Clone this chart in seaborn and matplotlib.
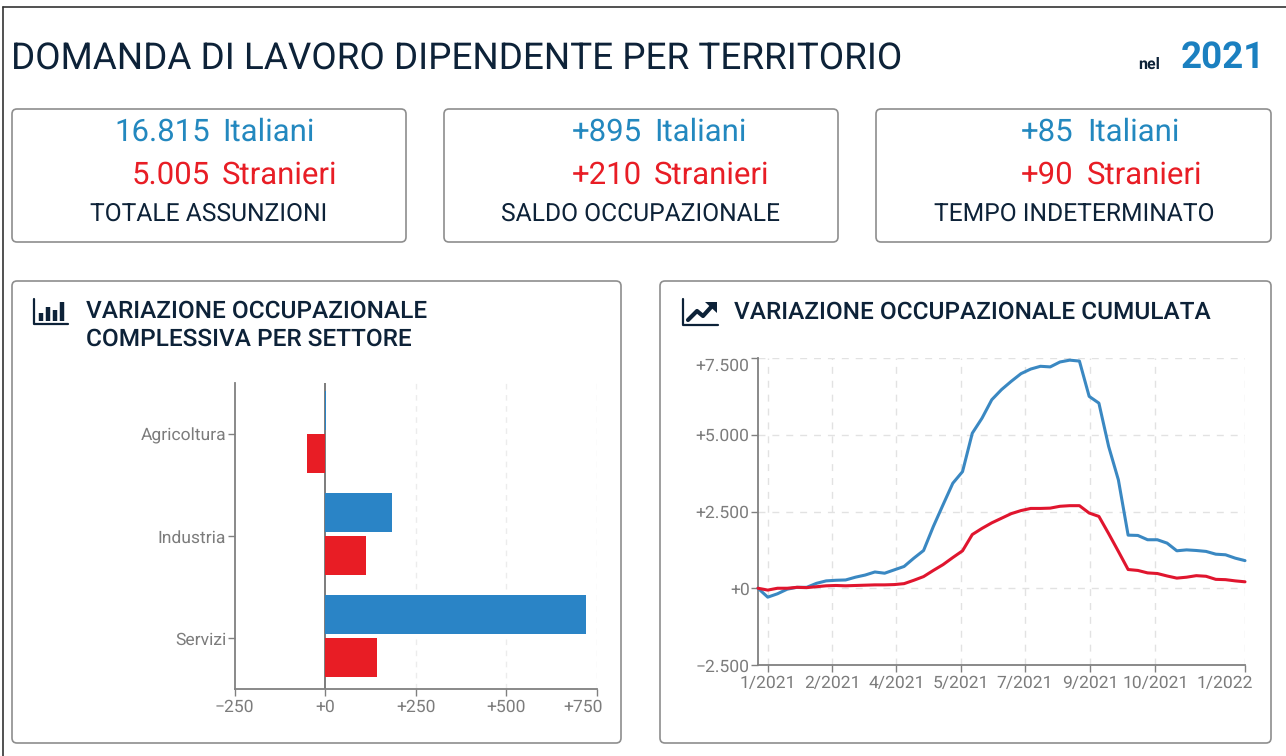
import pandas as pd
import matplotlib
matplotlib.use('Agg')
import matplotlib.pyplot as plt
from matplotlib.patches import FancyBboxPatch
from matplotlib.transforms import ScaledTranslation
import seaborn as sns

# bar chart data
settori = ['Agricoltura', 'Industria', 'Servizi']
var_italiani = [3, 184, 720]
var_stranieri = [-50, 114, 144]
bar_ticks = [-250, 0, 250, 500, 750]
bar_ticklabels = ['−250', '+0', '+250', '+500', '+750']

# cumulated line data, one value per period
cum_italiani = [0, -290, -180, -30, 30, 30, 160, 240, 260, 270, 360, 430, 530, 490, 600, 710, 980,
                1230, 2010, 2720, 3420, 3800, 5050, 5540, 6140, 6470, 6740, 6990, 7140, 7230, 7210,
                7370, 7430, 7400, 6250, 6030, 4620, 3530, 1730, 1720, 1580, 1580, 1470, 1220, 1250,
                1230, 1200, 1110, 1090, 980, 900]
cum_stranieri = [0, -60, 0, 0, 30, 20, 50, 80, 90, 80, 90, 100, 110, 110, 120, 150, 260,
                 380, 580, 770, 1000, 1220, 1750, 1950, 2130, 2280, 2430, 2530, 2600, 2600, 2610,
                 2670, 2690, 2690, 2450, 2340, 1780, 1200, 610, 580, 500, 480, 400, 330, 360,
                 410, 390, 290, 280, 240, 210]
periodi = list(range(len(cum_italiani)))
line_xticks = [1, 7.6, 14.2, 20.8, 27.4, 34.1, 40.8, 50]
line_xlabels = ['1/2021', '2/2021', '4/2021', '5/2021', '7/2021', '9/2021', '10/2021', '1/2022']
line_yticks = [-2500, 0, 2500, 5000, 7500]
line_ylabels = ['−2.500', '+0', '+2.500', '+5.000', '+7.500']

BLUE = '#2a84c6'
RED = '#e81d25'
LINE_BLUE = '#3a88c2'
LINE_RED = '#e0152e'
TEXT_BLUE = '#2388bf'
NAVY = '#0d2238'
GREY = '#7c7c7c'
W, H = 1286, 756

sns.set_theme(style='white')
plt.rcParams['font.family'] = ['Roboto', 'DejaVu Sans']
plt.rcParams['text.hinting'] = 'no_hinting'

fig = plt.figure(figsize=(W / 100, H / 100), dpi=100)
bg = fig.add_axes([0, 0, 1, 1])
bg.set_xlim(0, W)
bg.set_ylim(H, 0)
bg.axis('off')


def card(x0, y0, x1, y1):
    bg.add_patch(FancyBboxPatch((x0 + 4, y0 + 4), x1 - x0 - 8, y1 - y0 - 8,
                                boxstyle='round,pad=4,rounding_size=5',
                                fc='white', ec='#8e8e8e', lw=1.2))


def txt(x, y, s, size, color=NAVY, ha='left', weight='normal'):
    bg.text(x, y, s, fontsize=size, color=color, ha=ha, va='center', fontweight=weight)


# page frame
bg.plot([3, 3], [7, H], color='#333333', lw=1.2)
bg.plot([3, W], [7, 7], color='#333333', lw=1.2)

txt(11, 60, 'DOMANDA DI LAVORO DIPENDENTE PER TERRITORIO', 26.6)
txt(1138, 64, 'nel', 11.5, weight='bold')
txt(1181, 59, '2021', 26.5, color='#1b80c0', weight='bold')

for box in [(12, 109, 406, 242), (444, 109, 838, 242), (876, 109, 1271, 242),
            (12, 281, 621, 743), (660, 281, 1271, 743)]:
    card(*box)

kpi = [
    (210, 222, '16.815', '5.005', 208.5, 'TOTALE ASSUNZIONI'),
    (642, 654, '+895', '+210', 640.5, 'SALDO OCCUPAZIONALE'),
    (1073, 1087, '+85', '+90', 1074, 'TEMPO INDETERMINATO'),
]
for num_x, lab_x, it_val, st_val, cap_x, cap in kpi:
    txt(num_x, 132, it_val, 22.4, color=TEXT_BLUE, ha='right')
    txt(lab_x, 132, 'Italiani', 22.4, color=TEXT_BLUE)
    txt(num_x, 175, st_val, 22.4, color=RED, ha='right')
    txt(lab_x, 175, 'Stranieri', 22.4, color=RED)
    txt(cap_x, 214, cap, 17.7, ha='center')

txt(86, 311, 'VARIAZIONE OCCUPAZIONALE', 17.6, weight='medium')
txt(86, 339, 'COMPLESSIVA PER SETTORE', 17.6, weight='medium')
txt(734, 312, 'VARIAZIONE OCCUPAZIONALE CUMULATA', 17.6, weight='medium')

# panel icons
bg.plot([34, 34, 68], [299, 324, 324], color=NAVY, lw=1.6)
for ix, iy in [(41, 313), (48, 307), (55, 310), (62, 302)]:
    bg.plot([ix, ix], [iy, 321], color=NAVY, lw=3.2, solid_capstyle='butt')
bg.plot([683, 683, 718], [299, 325, 325], color=NAVY, lw=1.6)
bg.plot([688, 697, 703, 713], [320, 311, 316, 305], color=NAVY, lw=3)
bg.fill([705, 717, 717], [302, 302, 313], color=NAVY, lw=0)


def px_axes(x0, y0, x1, y1):
    return fig.add_axes([x0 / W, 1 - y1 / H, (x1 - x0) / W, (y1 - y0) / H], facecolor='none')


def style_axis(ax):
    sns.despine(ax=ax)
    for side in ['left', 'bottom']:
        ax.spines[side].set_color('#808080')
        ax.spines[side].set_linewidth(1.3)
    ax.tick_params(axis='both', length=5, width=1, color='#808080', labelcolor=GREY,
                   labelsize=12.6, pad=2, left=True, bottom=True)
    ax.tick_params(axis='y', pad=1)
    ax.set_xlabel('')
    ax.set_ylabel('')


def push_right(label, px):
    # the last label is kept inside the chart, not centred on its tick
    label.set_ha('right')
    label.set_transform(label.get_transform() + ScaledTranslation(px / 100, 0, fig.dpi_scale_trans))


# bars
bars = pd.DataFrame({
    'settore': settori * 2,
    'valore': var_italiani + var_stranieri,
    'gruppo': ['Italiani'] * 3 + ['Stranieri'] * 3,
})
ax1 = px_axes(234.5, 383, 597, 689)
sns.barplot(data=bars, y='settore', x='valore', hue='gruppo', ax=ax1, width=0.86, gap=0.11,
            palette={'Italiani': BLUE, 'Stranieri': RED}, legend=False, saturation=1, zorder=3,
            linewidth=0)
ax1.set_xlim(-250, 750)
ax1.set_ylim(2.52, -0.48)
ax1.set_xticks(bar_ticks, bar_ticklabels)
ax1.set_yticks([0.02, 1.02, 2.02], settori)
for v in bar_ticks[2:]:
    ax1.axvline(v, color='#ececec', lw=1, ls=(0, (4, 4)), zorder=1)
ax1.axvline(0, color='#666666', lw=1.2, zorder=2)
style_axis(ax1)
push_right(ax1.get_xticklabels()[-1], 6)

# lines
cum = pd.DataFrame({
    'periodo': periodi * 2,
    'valore': cum_italiani + cum_stranieri,
    'gruppo': ['Italiani'] * len(periodi) + ['Stranieri'] * len(periodi),
})
ax2 = px_axes(758, 358, 1245, 665)
sns.lineplot(data=cum, x='periodo', y='valore', hue='gruppo', ax=ax2, lw=2.2, legend=False,
             palette={'Italiani': LINE_BLUE, 'Stranieri': LINE_RED}, zorder=3, clip_on=False)
ax2.set_xlim(0, 50)
ax2.set_ylim(-2500, 7500)
ax2.set_xticks(line_xticks, line_xlabels)
ax2.set_yticks(line_yticks, line_ylabels)
for v in line_xticks:
    ax2.axvline(v, color='#e2e2e2', lw=1, ls=(0, (5, 5)), zorder=1)
for v in line_yticks[1:]:
    ax2.axhline(v, color='#e2e2e2', lw=1, ls=(0, (5, 5)), zorder=1)
style_axis(ax2)
push_right(ax2.get_xticklabels()[-1], 8)
ax2.get_yticklabels()[-1].set_va('top')

fig.savefig('out.png', dpi=100)
